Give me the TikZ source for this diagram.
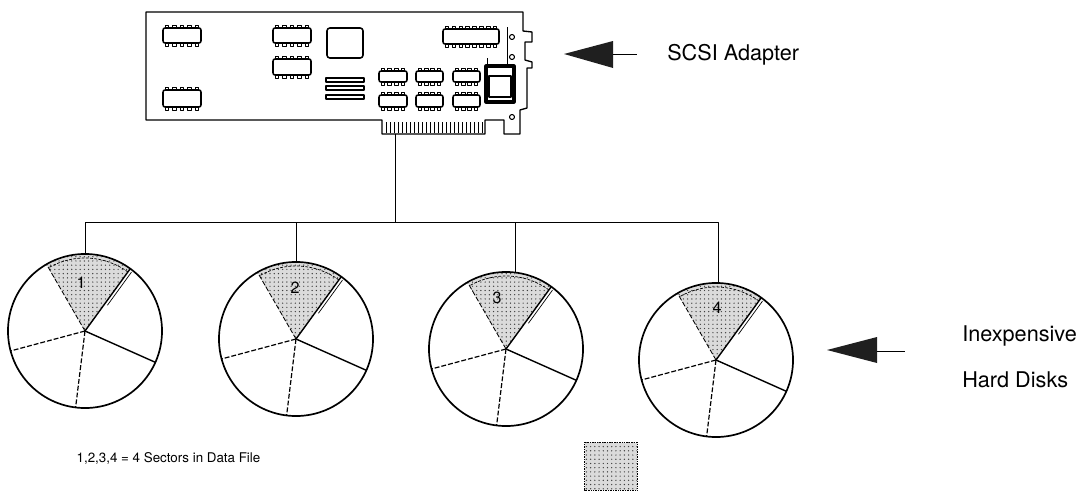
\documentclass[tikz,border=0pt]{standalone}
\usepackage{fontspec}
\setmainfont{TeX Gyre Heros}
\usetikzlibrary{patterns,calc}

% one DIP package: corners x1,y1,x2,y2 and number of pins per side
\newcommand\dipchip[5]{%
  \draw[chipline,rounded corners=1.5] (#1,#2) rectangle (#3,#4);
  \pgfmathsetmacro\chippitch{(#3-#1-8)/(#5-1)}
  \foreach \k in {1,...,#5}{
    \pgfmathsetmacro\pinx{#1+4+(\k-1)*\chippitch}
    \draw[pinline] (\pinx-1.8,#2-3) rectangle (\pinx+1.8,#2);
    \draw[pinline] (\pinx-1.8,#4) rectangle (\pinx+1.8,#4+3);
  }%
}

\begin{document}
\begin{tikzpicture}[x=0.025cm,y=-0.025cm,line join=round,
  board/.style={line width=0.95pt},
  chipline/.style={line width=1.1pt},
  pinline/.style={line width=0.55pt},
  wire/.style={line width=0.7pt},
  rim/.style={line width=1.2pt},
  solidcut/.style={line width=1pt},
  dashcut/.style={line width=0.85pt,dash pattern=on 3.5pt off 1.4pt},
  disk/.style={circle,draw,rim,minimum size=3.85cm,inner sep=0pt,outer sep=0pt},
  shade/.style={preaction={fill=black!14},pattern=dots,pattern color=black!75},
  pointer/.style={fill=black!88},
  bigtext/.style={font=\fontsize{15.4pt}{18pt}\selectfont,inner sep=0pt,anchor=west},
  smalltext/.style={font=\fontsize{9.5pt}{11pt}\selectfont,inner sep=0pt},
  digit/.style={font=\fontsize{11.5pt}{13pt}\selectfont,inner sep=0pt}]

\useasboundingbox (0,0) rectangle (1084,493);

% ---------------- adapter card ----------------
\draw[board] (146,12) -- (523,12) -- (523,31) -- (532,32) -- (532,42)
  -- (525,42) -- (525,60) -- (532,62) -- (532,68) -- (527,68) -- (527,108)
  -- (520,110) -- (520,134) -- (504,134) -- (504,120) -- (485,120)
  -- (485,134) -- (382,134) -- (382,120) -- (146,120) -- cycle;

% edge connector fingers
\foreach \fx in {386,390,...,482}
  \draw[line width=0.55pt] (\fx,122) -- (\fx,133);

% chips
\dipchip{163}{28}{201}{43}{5}
\dipchip{163}{90}{201}{107}{5}
\dipchip{273}{28}{311}{43}{5}
\dipchip{273}{59}{311}{75}{5}
\dipchip{443}{29}{499}{44}{8}
\dipchip{379}{71}{407}{82}{4}
\dipchip{416}{71}{443}{82}{4}
\dipchip{453}{71}{480}{82}{4}
\dipchip{379}{95}{407}{107}{4}
\dipchip{416}{95}{443}{107}{4}
\dipchip{453}{95}{480}{107}{4}

% square package and resistor strips
\draw[chipline,rounded corners=2] (327,28) rectangle (363,58);
\foreach \by in {78,86,95}
  \draw[chipline] (326,\by) rectangle (364,\by+4);

% socketed component near the bracket
\draw[line width=2.2pt] (486,66) rectangle (514,102);
\draw[line width=1.4pt] (489,76) rectangle (511,97);
\draw[line width=0.6pt] (487,58) -- (487,66);
\draw[line width=0.6pt] (507,27) -- (507,66);

% bracket holes
\foreach \hy in {37,57,117}
  \draw[line width=0.75pt] (512,\hy) circle[radius=2.5];

% ---------------- disks ----------------
\foreach \i/\cx/\cy/\dx/\dy in {1/85/331/-4/-48, 2/296/339/-1/-51,
                                3/506/349/-9/-51, 4/716/360/1/-52}{
  \coordinate (c\i) at (\cx,\cy);
  \fill[shade] (c\i) -- +(-54:76) arc[start angle=-54,end angle=-120,radius=76] -- cycle;
  \draw[line width=0.5pt,dash pattern=on 2pt off 1pt]
    ($(c\i)+(-54:73)$) arc[start angle=-54,end angle=-120,radius=73];
  \node[disk] (d\i) at (c\i) {};
  \draw[dashcut,line width=0.6pt] (c\i) -- +(-120:77);
  \draw[solidcut] (c\i) -- +(-54:77);
  \draw[line width=0.5pt] ($(c\i)+(-54:34)+(36:3)$) -- ($(c\i)+(-54:75)+(36:3)$);
  \draw[solidcut] (c\i) -- +(24:77);
  \draw[dashcut] (c\i) -- +(97:77);
  \draw[dashcut] (c\i) -- +(165:77);
  \node[digit] (n\i) at ($(c\i)+(\dx,\dy)$) {\i};
}

% ---------------- SCSI bus ----------------
\coordinate (edge) at (395,134);
\coordinate (bus) at (395,222);
\draw[wire] (edge) -- (bus);
\draw[wire] (d1.north) -- (d1.north |- bus) -- (d4.88 |- bus) -- (d4.88);
\draw[wire] (d2.north) -- (d2.north |- bus);
\draw[wire] (d3.83) -- (d3.83 |- bus);

% ---------------- pointers and labels ----------------
\node[bigtext] (scsi) at (667,55) {SCSI Adapter};
\coordinate (scsitip) at (564,54);
\fill[pointer] (scsitip) -- (613,41) -- (613,68) -- cycle;
\draw[wire] (613,54) -- (637,54);

\node[bigtext] (inexp) at (962,336) {Inexpensive};
\node[bigtext] (hard) at (962,380) {Hard Disks};
\coordinate (disktip) at (827,350);
\fill[pointer] (disktip) -- (877,337) -- (877,363) -- cycle;
\draw[wire] (877,351) -- (905,351);

% ---------------- key ----------------
\node[smalltext] (note) at (168.5,458) {1,2,3,4 = 4 Sectors in Data File};
\node[shade,minimum width=1.3cm,minimum height=1.175cm,inner sep=0pt] (key) at (611,466) {};
\draw[line width=0.4pt,dash pattern=on 0.6pt off 0.6pt] (key.north west) rectangle (key.south east);

\end{tikzpicture}
\end{document}
